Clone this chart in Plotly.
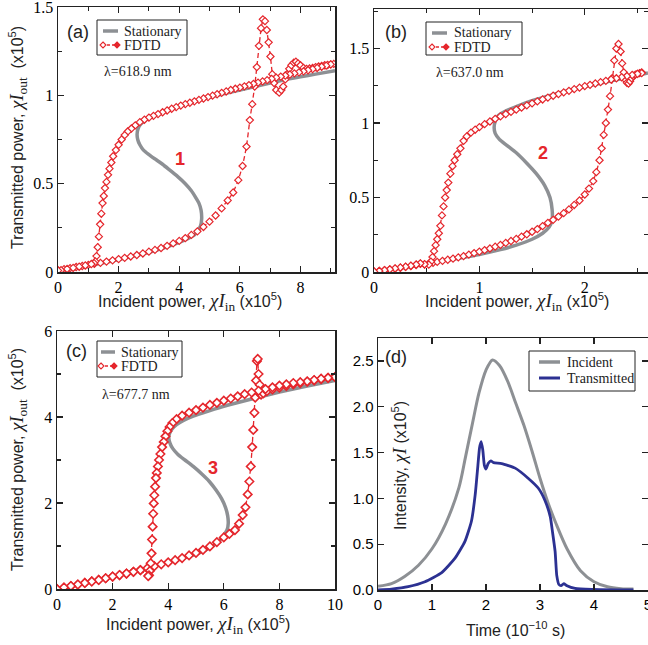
import plotly.graph_objects as go

# ---------------- Panel (a) ----------------
STAT_A_X = [0, 0.5, 1, 1.5, 2, 2.5, 3, 3.5, 4, 4.3, 4.5, 4.62, 4.7, 4.74, 4.72, 4.65, 4.55, 4.4, 4.2, 3.95,
            3.7, 3.45, 3.2, 3.0, 2.82, 2.7, 2.63, 2.61, 2.64, 2.72, 2.85, 3.0, 3.3, 3.6, 4.0, 4.5, 5.0, 5.5,
            6.0, 6.5, 7.0, 7.5, 8.0, 8.5, 9.14]
STAT_A_Y = [0, 0.017, 0.034, 0.052, 0.07, 0.09, 0.112, 0.137, 0.168, 0.19, 0.21, 0.235, 0.26, 0.3, 0.35, 0.39,
            0.42, 0.46, 0.5, 0.54, 0.575, 0.61, 0.64, 0.665, 0.69, 0.72, 0.75, 0.78, 0.81, 0.835, 0.855, 0.872,
            0.895, 0.915, 0.94, 0.965, 0.99, 1.01, 1.03, 1.05, 1.07, 1.09, 1.105, 1.12, 1.14]

FDTD_A_UP_X = [0, 0.2, 0.4, 0.6, 0.8, 1.0, 1.2, 1.4, 1.6, 1.8, 2.0, 2.2, 2.4, 2.6, 2.8, 3.0, 3.2, 3.4, 3.6, 3.8,
               4.0, 4.2, 4.4, 4.6, 4.8, 5.0, 5.2, 5.4, 5.6, 5.78, 5.95, 6.09, 6.22, 6.33, 6.41, 6.49, 6.56, 6.63,
               6.7, 6.76, 6.83, 6.89, 6.95, 7.01, 7.07, 7.13, 7.2, 7.3, 7.37, 7.43, 7.5, 7.56, 7.63, 7.7, 7.78,
               7.85, 7.92, 8.0, 8.1, 8.2, 8.3, 8.4, 8.5, 8.6, 8.7, 8.8, 8.9, 9.0, 9.1]
FDTD_A_UP_Y = [0.01, 0.016, 0.022, 0.028, 0.034, 0.04, 0.046, 0.052, 0.059, 0.066, 0.073, 0.08, 0.088, 0.096,
               0.105, 0.115, 0.125, 0.136, 0.148, 0.162, 0.176, 0.192, 0.21, 0.23, 0.255, 0.285, 0.32, 0.36,
               0.405, 0.45, 0.52, 0.6, 0.71, 0.86, 0.95, 1.05, 1.16, 1.28, 1.38, 1.43, 1.42, 1.37, 1.3, 1.22,
               1.12, 1.07, 1.03, 1.015, 1.03, 1.05, 1.09, 1.12, 1.15, 1.17, 1.185, 1.19, 1.18, 1.17, 1.155,
               1.15, 1.152, 1.155, 1.16, 1.163, 1.166, 1.17, 1.172, 1.175, 1.178]
FDTD_A_DN_X = [9.0, 8.85, 8.7, 8.55, 8.4, 8.25, 8.1, 7.95, 7.8, 7.65, 7.5, 7.35, 7.2, 7.05, 6.9, 6.75, 6.6, 6.45,
               6.3, 6.15, 6.0, 5.85, 5.7, 5.55, 5.4, 5.25, 5.1, 4.95, 4.8, 4.65, 4.5, 4.35, 4.2, 4.05, 3.9, 3.75,
               3.6, 3.45, 3.3, 3.15, 3.0, 2.85, 2.7, 2.55, 2.42, 2.3, 2.2, 2.1, 2.0, 1.91, 1.82, 1.76, 1.7, 1.65,
               1.6, 1.55, 1.51, 1.47, 1.43, 1.39, 1.35, 1.31, 1.27, 1.23, 1.19, 1.1, 0.9, 0.7, 0.5, 0.3, 0.1, 0.0]
FDTD_A_DN_Y = [1.175, 1.168, 1.162, 1.155, 1.148, 1.142, 1.136, 1.13, 1.124, 1.118, 1.112, 1.106, 1.1, 1.093,
               1.086, 1.079, 1.072, 1.065, 1.058, 1.051, 1.044, 1.037, 1.03, 1.022, 1.014, 1.006, 0.998, 0.99,
               0.982, 0.974, 0.966, 0.958, 0.95, 0.942, 0.933, 0.924, 0.914, 0.904, 0.894, 0.884, 0.874, 0.862,
               0.848, 0.83, 0.812, 0.795, 0.775, 0.75, 0.72, 0.69, 0.655, 0.62, 0.585, 0.55, 0.51, 0.475, 0.43,
               0.39, 0.33, 0.27, 0.2, 0.14, 0.09, 0.06, 0.05, 0.045, 0.037, 0.03, 0.023, 0.017, 0.01, 0.008]

# ---------------- Panel (b) ----------------
STAT_B_X = [0, 0.2, 0.4, 0.6, 0.8, 1.0, 1.2, 1.35, 1.5, 1.6, 1.66, 1.69, 1.69, 1.67, 1.62, 1.54, 1.45, 1.35,
            1.26, 1.19, 1.15, 1.14, 1.15, 1.18, 1.25, 1.35, 1.5, 1.65, 1.8, 2.0, 2.2, 2.4, 2.6]
STAT_B_Y = [0, 0.022, 0.045, 0.068, 0.092, 0.118, 0.15, 0.18, 0.22, 0.26, 0.3, 0.35, 0.42, 0.5, 0.58, 0.66,
            0.73, 0.8, 0.85, 0.89, 0.93, 0.97, 1.01, 1.05, 1.08, 1.11, 1.15, 1.18, 1.21, 1.245, 1.275, 1.305,
            1.335]

FDTD_B_UP_X = [0, 0.05, 0.1, 0.15, 0.2, 0.25, 0.3, 0.35, 0.4, 0.44, 0.48, 0.52, 0.56, 0.6, 0.65, 0.7, 0.75, 0.8,
               0.85, 0.9, 0.95, 1.0, 1.05, 1.1, 1.15, 1.2, 1.25, 1.3, 1.35, 1.4, 1.45, 1.5, 1.55, 1.6, 1.65,
               1.7, 1.75, 1.8, 1.85, 1.9, 1.95, 2.0, 2.04, 2.08, 2.11, 2.14, 2.16, 2.18, 2.2, 2.22, 2.24, 2.26,
               2.28, 2.3, 2.32, 2.34, 2.355, 2.37, 2.385, 2.4, 2.415, 2.43, 2.445, 2.46, 2.48, 2.5, 2.52, 2.54]
FDTD_B_UP_Y = [0.003, 0.008, 0.013, 0.018, 0.023, 0.028, 0.034, 0.04, 0.047, 0.055, 0.05, 0.055, 0.062, 0.068,
               0.075, 0.082, 0.09, 0.098, 0.107, 0.117, 0.127, 0.137, 0.147, 0.158, 0.17, 0.182, 0.195, 0.208,
               0.222, 0.237, 0.253, 0.27, 0.288, 0.308, 0.33, 0.35, 0.372, 0.395, 0.42, 0.45, 0.48, 0.52, 0.56,
               0.61, 0.67, 0.75, 0.83, 0.92, 1.0, 1.09, 1.18, 1.3, 1.42, 1.5, 1.53, 1.48, 1.4, 1.34, 1.29, 1.27,
               1.265, 1.28, 1.3, 1.315, 1.325, 1.33, 1.335, 1.34]
FDTD_B_DN_X = [2.54, 2.5, 2.45, 2.4, 2.35, 2.3, 2.25, 2.2, 2.15, 2.1, 2.05, 2.0, 1.95, 1.9, 1.85, 1.8, 1.75,
               1.7, 1.65, 1.6, 1.55, 1.5, 1.45, 1.4, 1.35, 1.3, 1.25, 1.2, 1.15, 1.1, 1.05, 1.0, 0.96, 0.92,
               0.88, 0.85, 0.82, 0.79, 0.765, 0.745, 0.725, 0.705, 0.69, 0.675, 0.66, 0.645, 0.63, 0.615, 0.6,
               0.585, 0.57, 0.555, 0.54, 0.52, 0.48, 0.44, 0.4, 0.35, 0.3, 0.25, 0.2, 0.15, 0.1, 0.05, 0.0]
FDTD_B_DN_Y = [1.335, 1.33, 1.322, 1.315, 1.307, 1.3, 1.292, 1.283, 1.274, 1.265, 1.256, 1.247, 1.237, 1.227,
               1.216, 1.205, 1.194, 1.183, 1.17, 1.158, 1.145, 1.132, 1.118, 1.104, 1.09, 1.075, 1.06, 1.044,
               1.028, 1.01, 0.992, 0.972, 0.955, 0.935, 0.91, 0.88, 0.83, 0.79, 0.75, 0.71, 0.66, 0.6, 0.55,
               0.5, 0.44, 0.38, 0.31, 0.26, 0.22, 0.18, 0.14, 0.1, 0.07, 0.05, 0.052, 0.058, 0.05, 0.042, 0.035,
               0.03, 0.024, 0.018, 0.012, 0.007, 0.003]

# ---------------- Panel (c) ----------------
STAT_C_X = [0, 1, 2, 3, 4, 4.5, 5.0, 5.5, 5.8, 6.0, 6.12, 6.16, 6.14, 6.06, 5.92, 5.72, 5.48, 5.2, 4.9, 4.6,
            4.35, 4.16, 4.06, 4.02, 4.05, 4.14, 4.3, 4.55, 4.9, 5.5, 6.0, 7.0, 8.0, 9.0, 10.0]
STAT_C_Y = [0, 0.14, 0.29, 0.44, 0.62, 0.71, 0.81, 0.96, 1.1, 1.25, 1.38, 1.53, 1.7, 1.9, 2.1, 2.3, 2.5, 2.68,
            2.85, 3.0, 3.13, 3.27, 3.4, 3.52, 3.62, 3.72, 3.82, 3.92, 4.02, 4.15, 4.25, 4.42, 4.58, 4.72, 4.85]

FDTD_C_UP_X = [0, 0.25, 0.5, 0.75, 1.0, 1.25, 1.5, 1.75, 2.0, 2.25, 2.5, 2.75, 3.0, 3.25, 3.5, 3.75, 4.0, 4.25,
               4.5, 4.75, 5.0, 5.25, 5.5, 5.75, 6.0, 6.2, 6.4, 6.55, 6.68, 6.78, 6.86, 6.92, 6.97, 7.02, 7.06,
               7.1, 7.13, 7.16, 7.19, 7.22, 7.25, 7.29, 7.34, 7.42, 7.55, 7.75, 8.0, 8.25, 8.5, 8.75, 9.0, 9.25,
               9.5, 9.75, 10.0]
FDTD_C_UP_Y = [0, 0.035, 0.07, 0.105, 0.14, 0.175, 0.21, 0.25, 0.29, 0.325, 0.36, 0.4, 0.44, 0.485, 0.53,
               0.575, 0.62, 0.67, 0.72, 0.78, 0.84, 0.91, 0.99, 1.09, 1.2, 1.28, 1.37, 1.52, 1.72, 1.9, 2.2,
               2.5, 2.85, 3.3, 3.7, 4.1, 4.45, 4.85, 5.3, 5.35, 5.0, 4.75, 4.52, 4.55, 4.6, 4.64, 4.68, 4.72,
               4.76, 4.79, 4.82, 4.85, 4.88, 4.91, 4.93]
FDTD_C_DN_X = [10.0, 9.75, 9.5, 9.25, 9.0, 8.75, 8.5, 8.25, 8.0, 7.75, 7.5, 7.25, 7.0, 6.75, 6.5, 6.25, 6.0,
               5.75, 5.5, 5.25, 5.0, 4.75, 4.5, 4.3, 4.15, 4.05, 3.97, 3.9, 3.84, 3.78, 3.72, 3.67, 3.63, 3.59,
               3.56, 3.53, 3.5, 3.48, 3.46, 3.44, 3.42, 3.4, 3.37, 3.34, 3.31, 3.28, 3.0, 2.75, 2.5, 2.25, 2.0,
               1.75, 1.5, 1.25, 1.0, 0.75, 0.5, 0.25, 0.0]
FDTD_C_DN_Y = [4.93, 4.91, 4.89, 4.86, 4.83, 4.81, 4.79, 4.76, 4.73, 4.69, 4.65, 4.61, 4.57, 4.53, 4.48, 4.43,
               4.38, 4.33, 4.28, 4.22, 4.16, 4.1, 4.03, 3.95, 3.86, 3.77, 3.67, 3.55, 3.42, 3.3, 3.14, 3.0, 2.85,
               2.7, 2.58, 2.38, 2.18, 1.99, 1.75, 1.45, 1.15, 0.83, 0.6, 0.42, 0.32, 0.3, 0.44, 0.4, 0.36, 0.325,
               0.29, 0.25, 0.21, 0.175, 0.14, 0.105, 0.07, 0.035, 0.0]

# ---------------- Panel (d) ----------------
TIME_INC = [0, 0.25, 0.5, 0.75, 1.0, 1.25, 1.5, 1.62, 1.75, 1.87, 2.0, 2.12, 2.25, 2.4, 2.55, 2.7, 2.85, 3.0,
            3.15, 3.3, 3.5, 3.75, 4.0, 4.25, 4.5, 4.73]
INCIDENT = [0.04, 0.07, 0.15, 0.27, 0.45, 0.72, 1.12, 1.45, 1.82, 2.15, 2.4, 2.51, 2.45, 2.28, 2.04, 1.8, 1.52,
            1.22, 0.95, 0.72, 0.45, 0.21, 0.09, 0.035, 0.015, 0.01]
TIME_TR = [0, 0.25, 0.56, 0.87, 1.18, 1.43, 1.61, 1.73, 1.8, 1.85, 1.88, 1.91, 1.94, 1.97, 2.0, 2.04, 2.09,
           2.14, 2.29, 2.54, 2.78, 2.97, 3.09, 3.19, 3.23, 3.28, 3.31, 3.35, 3.39, 3.44, 3.5, 3.65, 3.96, 4.73]
TRANSMITTED = [0, 0.01, 0.036, 0.09, 0.19, 0.35, 0.53, 0.75, 1.04, 1.36, 1.55, 1.62, 1.53, 1.36, 1.32, 1.38,
               1.41, 1.39, 1.38, 1.33, 1.22, 1.11, 0.98, 0.80, 0.64, 0.42, 0.16, 0.06, 0.047, 0.07, 0.047,
               0.018, 0.007, 0.0]

for a, b in [(STAT_A_X, STAT_A_Y), (FDTD_A_UP_X, FDTD_A_UP_Y), (FDTD_A_DN_X, FDTD_A_DN_Y),
             (STAT_B_X, STAT_B_Y), (FDTD_B_UP_X, FDTD_B_UP_Y), (FDTD_B_DN_X, FDTD_B_DN_Y),
             (STAT_C_X, STAT_C_Y), (FDTD_C_UP_X, FDTD_C_UP_Y), (FDTD_C_DN_X, FDTD_C_DN_Y),
             (TIME_INC, INCIDENT), (TIME_TR, TRANSMITTED)]:
    assert len(a) == len(b), (len(a), len(b))

RED = "#e5262c"
GRAY = "#8d9094"
BLUE = "#2c3192"
SERIF = "Liberation Serif"
SANS = "Liberation Sans"
W, H = 648, 645

fig = go.Figure()


def add_panel(sx, sy, fx, fy, xa, ya, msize, mline):
    fig.add_trace(go.Scatter(x=sx, y=sy, mode="lines", name="Stationary", showlegend=False,
                             line=dict(color=GRAY, width=3.5, shape="spline", smoothing=0.6),
                             xaxis=xa, yaxis=ya))
    fig.add_trace(go.Scatter(x=fx, y=fy, mode="lines+markers", name="FDTD", showlegend=False,
                             line=dict(color=RED, width=1.3, dash="5px,3px"),
                             marker=dict(symbol="diamond", size=msize, color="white",
                                         line=dict(color=RED, width=mline)),
                             xaxis=xa, yaxis=ya))


add_panel(STAT_A_X, STAT_A_Y, FDTD_A_UP_X + FDTD_A_DN_X, FDTD_A_UP_Y + FDTD_A_DN_Y, "x", "y", 5.5, 1.2)
add_panel(STAT_B_X, STAT_B_Y, FDTD_B_UP_X + FDTD_B_DN_X, FDTD_B_UP_Y + FDTD_B_DN_Y, "x2", "y2", 5.5, 1.2)
add_panel(STAT_C_X, STAT_C_Y, FDTD_C_UP_X + FDTD_C_DN_X, FDTD_C_UP_Y + FDTD_C_DN_Y, "x3", "y3", 6.5, 1.6)

fig.add_trace(go.Scatter(x=TIME_INC, y=INCIDENT, mode="lines", name="Incident", showlegend=False,
                         line=dict(color=GRAY, width=3, shape="spline", smoothing=0.8),
                         xaxis="x4", yaxis="y4"))
fig.add_trace(go.Scatter(x=TIME_TR, y=TRANSMITTED, mode="lines", name="Transmitted", showlegend=False,
                         line=dict(color=BLUE, width=2.8, shape="spline", smoothing=0.5),
                         xaxis="x4", yaxis="y4"))


def px(xp):
    return xp / W


def py(yp):
    return 1 - yp / H


def axis(domain, rng, dtick, minor=None, font=SERIF, anchor=None, fmt=None):
    d = dict(domain=domain, range=rng, dtick=dtick, tick0=0, showline=True, linecolor="#222",
             linewidth=1.5, mirror="ticks", ticks="inside", ticklen=6, tickwidth=1.2, tickcolor="#222",
             showgrid=False, zeroline=False, anchor=anchor, automargin=False, ticklabeloverflow="allow",
             tickfont=dict(family=font, size=16 if font == SERIF else 15, color="black"))
    if minor is not None:
        d["minor"] = dict(dtick=minor, tick0=0, ticks="inside", ticklen=4, tickwidth=1.1,
                          tickcolor="#222", showgrid=False)
    if fmt:
        d["tickformat"] = fmt
    return d


fig.update_layout(
    template="none",
    width=W, height=H, margin=dict(l=0, r=0, t=0, b=0, autoexpand=False),
    paper_bgcolor="white", plot_bgcolor="white", showlegend=False,
    xaxis=axis([px(58), px(335)], [0, 9.14], 2, 1, anchor="y"),
    yaxis=axis([py(272), py(7)], [0, 1.5], 0.5, 0.25, anchor="x"),
    xaxis2=axis([px(374), 1.0], [0, 2.6], 1, 0.5, anchor="y2"),
    yaxis2=axis([py(272), py(9)], [0, 1.765], 0.5, 0.25, anchor="x2"),
    xaxis3=axis([px(57), px(335)], [0, 10], 2, None, anchor="y3"),
    yaxis3=axis([py(589), py(331)], [0, 6], 2, 1, anchor="x3"),
    xaxis4=axis([px(378), 1.0], [0, 5.0], 1, None, font=SANS, anchor="y4"),
    yaxis4=axis([py(590), py(338)], [0, 2.75], 0.5, None, font=SANS, anchor="x4", fmt=".1f"),
)

# ---- hand-drawn legend boxes (pixel layout) ----
def pshape(**kw):
    kw.setdefault("xref", "paper")
    kw.setdefault("yref", "paper")
    fig.add_shape(**kw)


def diamond(cx, cy, r, fill):
    path = "M {},{} L {},{} L {},{} L {},{} Z".format(px(cx), py(cy - r), px(cx + r), py(cy),
                                                     px(cx), py(cy + r), px(cx - r), py(cy))
    pshape(type="path", path=path, line=dict(color=RED, width=1.1), fillcolor=fill)


def text_at(x, y, t, size=14, family=SERIF, color="#222", anchor="left", angle=0):
    fig.add_annotation(xref="paper", yref="paper", x=px(x), y=py(y), text=t, showarrow=False,
                       xanchor=anchor, yanchor="middle", textangle=angle,
                       font=dict(family=family, size=size, color=color))


def legend_box(x0, y0, x1, y1, rows):
    pshape(type="rect", x0=px(x0), y0=py(y1), x1=px(x1), y1=py(y0),
           line=dict(color="#222", width=1), fillcolor="white")
    for (kind, label, yc, sx0, sx1, tx) in rows:
        if kind == "gray":
            pshape(type="line", x0=px(sx0), x1=px(sx1), y0=py(yc), y1=py(yc),
                   line=dict(color=GRAY, width=3.5))
        elif kind == "blue":
            pshape(type="line", x0=px(sx0), x1=px(sx1), y0=py(yc), y1=py(yc),
                   line=dict(color=BLUE, width=3))
        else:
            pshape(type="line", x0=px(sx0), x1=px(sx1), y0=py(yc), y1=py(yc),
                   line=dict(color=RED, width=1.3, dash="3px,2px"))
            diamond(sx0 + 1, yc, 3, "white")
            diamond(sx1 - 1, yc, 3, RED)
        text_at(tx, yc, label)


legend_box(97, 20, 187, 55, [("gray", "Stationary", 31, 103, 118, 122),
                             ("red", "FDTD", 45, 102, 118, 122)])
legend_box(426, 22, 522, 55, [("gray", "Stationary", 33, 432, 447, 452),
                              ("red", "FDTD", 47, 431, 447, 452)])
legend_box(97, 341, 182, 377, [("gray", "Stationary", 352, 101, 115, 119),
                               ("red", "FDTD", 366, 100, 115, 119)])
legend_box(529, 351, 635, 391, [("gray", "Incident", 362, 539, 560, 565),
                                ("blue", "Transmitted", 378, 539, 560, 565)])

CHI = '<span style="font-family:Liberation Serif;font-size:19px"><i>χI</i>'
XT = 'Incident power, ' + CHI + '<sub>in</sub></span> (x10<sup>5</sup>)'
YT = 'Transmitted power, ' + CHI + '<sub>out</sub></span>  (x10<sup>5</sup>)'

text_at(190, 302, XT, 16, SANS, anchor="center")
text_at(517, 302, XT, 16, SANS, anchor="center")
text_at(198, 625, XT, 16, SANS, anchor="center")
text_at(515, 629, 'Time (10<sup>−10</sup> s)', 16, SANS, anchor="center")
text_at(18, 138, YT, 16, SANS, anchor="center", angle=-90)
text_at(18, 460, YT, 16, SANS, anchor="center", angle=-90)
text_at(399, 466, 'Intensity, ' + CHI + '</span> (x10<sup>5</sup>)', 16, SANS, anchor="center", angle=-90)
text_at(78, 32, '(a)', 18, SANS, anchor="center")
text_at(396, 32, '(b)', 18, SANS, anchor="center")
text_at(76, 351, '(c)', 18, SANS, anchor="center")
text_at(396, 357, '(d)', 18, SANS, anchor="center")
text_at(138, 71, 'λ=618.9 nm', 14, SERIF, anchor="center")
text_at(470, 72, 'λ=637.0 nm', 14, SERIF, anchor="center")
text_at(136, 394, 'λ=677.7 nm', 14, SERIF, anchor="center")
text_at(180, 159, '<b>1</b>', 18, SANS, color=RED, anchor="center")
text_at(543, 153, '<b>2</b>', 18, SANS, color=RED, anchor="center")
text_at(213, 468, '<b>3</b>', 18, SANS, color=RED, anchor="center")

fig.write_html("out.html", config={"displayModeBar": False, "staticPlot": True},
               post_script="document.body.style.margin='0';document.body.style.overflow='hidden';")
